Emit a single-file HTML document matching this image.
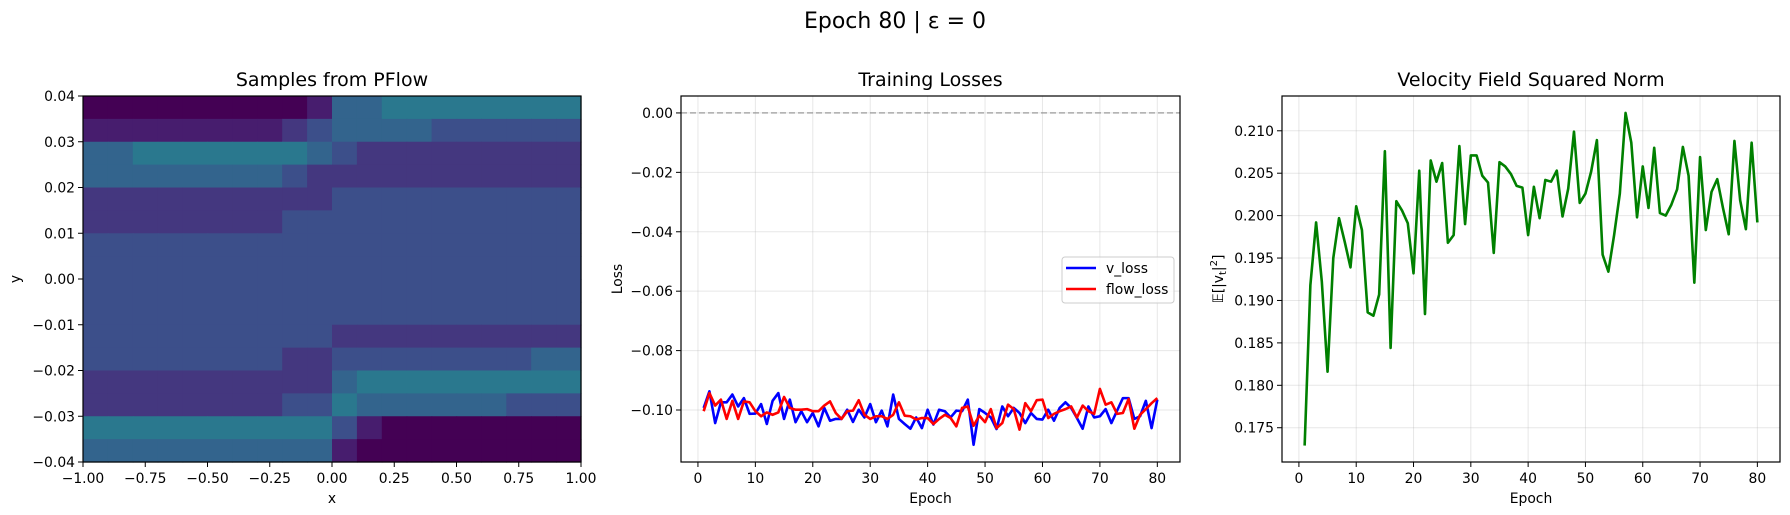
<!DOCTYPE html>
<html><head><meta charset="utf-8"><style>
html,body{margin:0;padding:0;background:#fff;}
svg{display:block;font-family:"DejaVu Sans","Liberation Sans",sans-serif;}
</style></head><body>
<svg id="fig" width="1790" height="515" viewBox="0 0 1790 515" xmlns="http://www.w3.org/2000/svg">
<rect width="1790" height="515" fill="#fff"/>
<text x="895" y="28" font-size="22" text-anchor="middle">Epoch 80 | ε = 0</text>
<g id="g1"></g>
<g id="g2"></g>
<g id="g3"></g>
</svg>
<script>
// ---------- data ----------
const heatRows = [
"00000000014455555555",
"11111111234444333333",
"44555555543222222222",
"44444444322222222222",
"22222222223333333333",
"22222222333333333333",
"33333333333333333333",
"33333333333333333333",
"33333333333333333333",
"33333333333333333333",
"33333333332222222222",
"33333333223333333344",
"22222222224555555555",
"22222222335444444333",
"55555555553100000000",
"44444444441000000000"
];
const heatXTicks = [-1, -0.75, -0.5, -0.25, 0, 0.25, 0.5, 0.75, 1];
const heatXLabels = ["−1.00","−0.75","−0.50","−0.25","0.00","0.25","0.50","0.75","1.00"];
const heatYTicks = [0.04,0.03,0.02,0.01,0,-0.01,-0.02,-0.03,-0.04];
const heatYLabels = ["0.04","0.03","0.02","0.01","0.00","−0.01","−0.02","−0.03","−0.04"];

const vLoss = [-0.0993,-0.0937,-0.1044,-0.0974,-0.0974,-0.0948,-0.0988,-0.0960,-0.1013,-0.1012,
-0.0980,-0.1047,-0.0969,-0.0943,-0.1030,-0.0965,-0.1041,-0.1004,-0.1041,-0.1010,
-0.1055,-0.0993,-0.1036,-0.1030,-0.1030,-0.0999,-0.1040,-0.0999,-0.1025,-0.0980,
-0.1041,-0.1002,-0.1055,-0.0948,-0.1030,-0.1047,-0.1063,-0.1025,-0.1061,-0.0999,
-0.1049,-0.0999,-0.1004,-0.1025,-0.1002,-0.1004,-0.0965,-0.1117,-0.0997,-0.1010,
-0.1025,-0.1064,-0.0988,-0.1021,-0.0993,-0.1010,-0.1044,-0.1010,-0.1030,-0.1032,
-0.0999,-0.1036,-0.0993,-0.0974,-0.0993,-0.1027,-0.1063,-0.0988,-0.1025,-0.1021,
-0.0997,-0.1044,-0.1002,-0.0960,-0.0960,-0.1030,-0.1021,-0.0969,-0.1061,-0.0965];
const flowLoss = [-0.1004,-0.0943,-0.0985,-0.0965,-0.1030,-0.0969,-0.1030,-0.0971,-0.0974,-0.1004,
-0.1021,-0.1008,-0.1016,-0.1008,-0.0956,-0.0993,-0.0999,-0.0999,-0.0997,-0.1004,
-0.1004,-0.0985,-0.0971,-0.1010,-0.1030,-0.1004,-0.1002,-0.0967,-0.1016,-0.1030,
-0.1021,-0.1021,-0.1030,-0.1016,-0.0974,-0.1019,-0.1021,-0.1032,-0.1027,-0.1027,
-0.1047,-0.1030,-0.1016,-0.1027,-0.1055,-0.0993,-0.0988,-0.1053,-0.1019,-0.1041,
-0.0997,-0.1061,-0.1044,-0.0982,-0.0997,-0.1066,-0.0977,-0.1004,-0.0967,-0.0965,
-0.1027,-0.1013,-0.1004,-0.0997,-0.0988,-0.1025,-0.0985,-0.1004,-0.1013,-0.0929,
-0.0982,-0.0974,-0.1013,-0.1010,-0.0963,-0.1063,-0.1016,-0.0997,-0.0977,-0.0960];
const lossYTicks = [0,-0.02,-0.04,-0.06,-0.08,-0.10];
const lossYLabels = ["0.00","−0.02","−0.04","−0.06","−0.08","−0.10"];
const epochTicks = [0,10,20,30,40,50,60,70,80];

const velNorm = [0.1729,0.1918,0.1992,0.1922,0.1816,0.1950,0.1997,0.1969,0.1939,0.2011,
0.1983,0.1886,0.1882,0.1907,0.2076,0.1844,0.2017,0.2006,0.1991,0.1932,
0.2053,0.1884,0.2065,0.2040,0.2062,0.1968,0.1977,0.2082,0.1990,0.2071,
0.2071,0.2047,0.2039,0.1956,0.2063,0.2058,0.2049,0.2035,0.2033,0.1977,
0.2034,0.1997,0.2042,0.2040,0.2053,0.1999,0.2032,0.2099,0.2015,0.2026,
0.2052,0.2089,0.1954,0.1934,0.1977,0.2026,0.2121,0.2086,0.1998,0.2058,
0.2009,0.2080,0.2003,0.2000,0.2013,0.2031,0.2081,0.2047,0.1921,0.2069,
0.1983,0.2028,0.2043,0.2009,0.1978,0.2088,0.2018,0.1984,0.2086,0.1992];
const velYTicks = [0.175,0.180,0.185,0.190,0.195,0.200,0.205,0.210];

// ---------- helpers ----------
const NS = "http://www.w3.org/2000/svg";
function mk(tag, attrs, parent){ const e=document.createElementNS(NS,tag); for(const k in attrs) e.setAttribute(k,attrs[k]); parent.appendChild(e); return e; }
function viridis(t){
  const s=[[68,1,84],[72,40,120],[62,74,137],[49,104,142],[38,130,142],[31,158,137],[53,183,121],[109,205,89],[180,222,44],[253,231,37]];
  t=Math.max(0,Math.min(1,t))*(s.length-1); const i=Math.min(Math.floor(t),s.length-2), f=t-i;
  const c=s[i].map((v,k)=>Math.round(v+(s[i+1][k]-v)*f)); return `rgb(${c[0]},${c[1]},${c[2]})`;
}
const TOP=96, BOT=462;

function axesFrame(g, L, R, name){
  const r = mk('rect',{x:L,y:TOP,width:R-L,height:BOT-TOP,fill:'none',stroke:'#000','stroke-width':1.2},g);
  
  
}
function xTick(g,x,label,grid){
  if(grid){ const gl=mk('line',{x1:x,x2:x,y1:TOP,y2:BOT,stroke:'#b0b0b0','stroke-opacity':0.3,'stroke-width':1},g);
      }
  const t=mk('line',{x1:x,x2:x,y1:BOT,y2:BOT+5,stroke:'#000','stroke-width':1},g);
   
  const tx=mk('text',{x:x,y:BOT+21,'font-size':13.9,'text-anchor':'middle'},g); tx.textContent=label;
   
}
function yTick(g,L,R,y,label,grid){
  if(grid){ const gl=mk('line',{x1:L,x2:R,y1:y,y2:y,stroke:'#b0b0b0','stroke-opacity':0.3,'stroke-width':1},g);
      }
  const t=mk('line',{x1:L-5,x2:L,y1:y,y2:y,stroke:'#000','stroke-width':1},g);
   
  const tx=mk('text',{x:L-8,y:y+5,'font-size':13.9,'text-anchor':'end'},g); tx.textContent=label;
   
}
function title(g,x,txt){ const t=mk('text',{x:x,y:86,'font-size':19,'text-anchor':'middle'},g); t.textContent=txt;
    }
function xlabel(g,x,txt){ const t=mk('text',{x:x,y:503,'font-size':13.9,'text-anchor':'middle'},g); t.textContent=txt;
    return t; }

// ---------- panel 1: heatmap ----------
(function(){
  const g=document.getElementById('g1'); const L=83,R=581;
  const sx=v=>L+(v+1)/2*(R-L), sy=v=>TOP+(0.04-v)/0.08*(BOT-TOP);
  const nr=heatRows.length, nc=heatRows[0].length, cw=(R-L)/nc, ch=(BOT-TOP)/nr;
  heatRows.forEach((row,ri)=>{ for(let ci=0;ci<nc;ci++){
    const d=+row[ci];
    const c=mk('rect',{x:L+ci*cw,y:TOP+ri*ch,width:cw+0.6,height:ch+0.6,fill:viridis(d/12.5)},g);
     
  }});
  axesFrame(g,L,R,'heatmap-axes');
  heatXTicks.forEach((v,i)=>xTick(g,sx(v),heatXLabels[i],false));
  heatYTicks.forEach((v,i)=>yTick(g,L,R,sy(v),heatYLabels[i],false));
  title(g,(L+R)/2,'Samples from PFlow');
  xlabel(g,(L+R)/2,'x');
  const yl=mk('text',{x:0,y:0,'font-size':13.9,'text-anchor':'middle',transform:`translate(20,${(TOP+BOT)/2}) rotate(-90)`},g); yl.textContent='y';
   
})();

function linePath(arr, sx, sy){ return arr.map((v,i)=>(i?'L':'M')+sx(i+1).toFixed(2)+','+sy(v).toFixed(2)).join(''); }

// ---------- panel 2: losses ----------
(function(){
  const g=document.getElementById('g2'); const L=681,R=1180;
  const x0=-2.95,x1=83.95,y0=-0.1175,y1=0.0057;
  const sx=v=>L+(v-x0)/(x1-x0)*(R-L), sy=v=>BOT-(v-y0)/(y1-y0)*(BOT-TOP);
  epochTicks.forEach(v=>xTick(g,sx(v),String(v),true));
  lossYTicks.forEach((v,i)=>yTick(g,L,R,sy(v),lossYLabels[i],true));
  const z=mk('line',{x1:L,x2:R,y1:sy(0),y2:sy(0),stroke:'#999','stroke-opacity':0.8,'stroke-width':1.5,'stroke-dasharray':'6,3'},g);
   
  const pv=mk('path',{d:linePath(vLoss,sx,sy),fill:'none',stroke:'#0000ff','stroke-width':2.6,'stroke-linejoin':'round'},g);
   
  const pf=mk('path',{d:linePath(flowLoss,sx,sy),fill:'none',stroke:'#ff0000','stroke-width':2.6,'stroke-linejoin':'round'},g);
   
  axesFrame(g,L,R,'losses-axes');
  title(g,(L+R)/2,'Training Losses');
  xlabel(g,(L+R)/2,'Epoch');
  const yl=mk('text',{x:0,y:0,'font-size':13.9,'text-anchor':'middle',transform:`translate(622,${(TOP+BOT)/2}) rotate(-90)`},g); yl.textContent='Loss';
   
  // legend
  const lg=mk('g',{},g);  
  mk('rect',{x:1062,y:257,width:112,height:46,rx:3,fill:'#fff','fill-opacity':0.8,stroke:'#ccc'},lg);
  const e1=mk('g',{},lg);  
  mk('line',{x1:1066,x2:1096,y1:268,y2:268,stroke:'#0000ff','stroke-width':2.6},e1);
  const t1=mk('text',{x:1106,y:273,'font-size':13.9},e1); t1.textContent='v_loss';
  const e2=mk('g',{},lg);  
  mk('line',{x1:1066,x2:1096,y1:289,y2:289,stroke:'#ff0000','stroke-width':2.6},e2);
  const t2=mk('text',{x:1106,y:294,'font-size':13.9},e2); t2.textContent='flow_loss';
})();

// ---------- panel 3: velocity norm ----------
(function(){
  const g=document.getElementById('g3'); const L=1282,R=1780;
  const x0=-2.95,x1=83.95,y0=0.17096,y1=0.2141;
  const sx=v=>L+(v-x0)/(x1-x0)*(R-L), sy=v=>BOT-(v-y0)/(y1-y0)*(BOT-TOP);
  epochTicks.forEach(v=>xTick(g,sx(v),String(v),true));
  velYTicks.forEach(v=>yTick(g,L,R,sy(v),v.toFixed(3),true));
  const p=mk('path',{d:linePath(velNorm,sx,sy),fill:'none',stroke:'#008000','stroke-width':2.6,'stroke-linejoin':'round'},g);
   
  axesFrame(g,L,R,'velocity-axes');
  title(g,(L+R)/2,'Velocity Field Squared Norm');
  xlabel(g,(L+R)/2,'Epoch');
  const yl=mk('text',{x:0,y:0,'font-size':13.9,'text-anchor':'middle',transform:`translate(1223,${(TOP+BOT)/2}) rotate(-90)`},g);
  yl.innerHTML='𝔼[|v<tspan font-size="10" dy="3">t</tspan><tspan dy="-3">|</tspan><tspan font-size="10" dy="-6">2</tspan><tspan dy="6">]</tspan>';
   
})();
</script>
</body></html>
